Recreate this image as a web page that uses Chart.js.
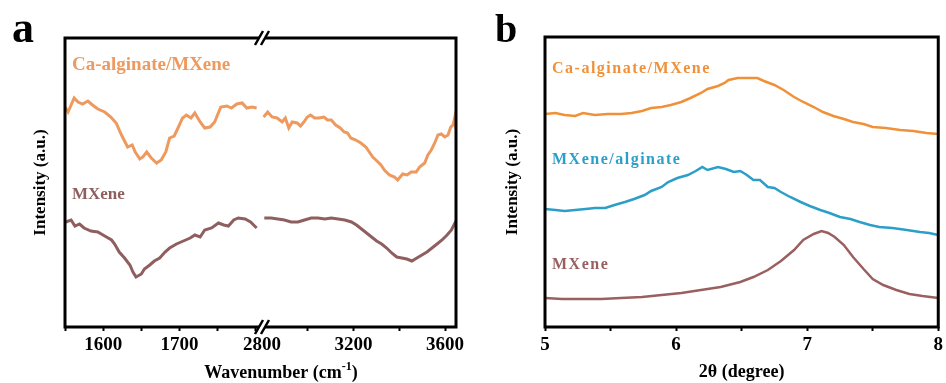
<!DOCTYPE html>
<html>
<head>
<meta charset="utf-8">
<script src="https://cdn.jsdelivr.net/npm/chart.js@4.4.0/dist/chart.umd.min.js"></script>
<style>
  html, body { margin: 0; padding: 0; background: #fff; }
  #wrap { position: relative; width: 946px; height: 383px; overflow: hidden; }
  #panelA { position: absolute; left: 0; top: 0; width: 480px; height: 383px; }
  #panelB { position: absolute; left: 480px; top: 0; width: 466px; height: 383px; }
</style>
</head>
<body>
<div id="wrap">
  <div id="panelA"><canvas id="chartA"></canvas></div>
  <div id="panelB"><canvas id="chartB"></canvas></div>
</div>
<script>
const fontFamily = '"Liberation Serif", "Times New Roman", serif';

// ---- panel a : FTIR, wavenumber axis broken between ~1808 and 2800 ----
const lowTickLabels = [1600, 1700];
const highTickLabels = [2800, 3200, 3600];

const caAlgLowX = [1550, 1554, 1558, 1562, 1567, 1573, 1580, 1586, 1593, 1602, 1610, 1617, 1624, 1632, 1638, 1642, 1648, 1652, 1657, 1663, 1670, 1676, 1682, 1687, 1693, 1698, 1704, 1709, 1715, 1720, 1727, 1733, 1740, 1746, 1754, 1762, 1768, 1775, 1782, 1788, 1795, 1801];
const caAlgLowY = [220, 215, 222, 229, 225, 223, 226, 222, 218, 215, 210, 204, 192, 180, 182, 175, 168, 170, 175, 169, 164, 167, 175, 189, 191, 199, 209, 212, 209, 214, 205, 199, 200, 205, 220, 221, 219, 223, 224, 219, 220, 219];
const caAlgHighX = [2807, 2825, 2844, 2866, 2888, 2902, 2917, 2932, 2954, 2968, 2983, 2998, 3012, 3030, 3049, 3071, 3086, 3103, 3122, 3142, 3159, 3174, 3188, 3210, 3232, 3254, 3269, 3284, 3298, 3320, 3335, 3357, 3379, 3393, 3415, 3434, 3452, 3474, 3489, 3511, 3525, 3540, 3555, 3569, 3584, 3599, 3613, 3625, 3635, 3643, 3648];
const caAlgHighY = [210, 215, 210, 209, 205, 209, 199, 205, 204, 201, 205, 210, 212, 209, 209, 210, 207, 207, 202, 199, 195, 194, 189, 187, 184, 180, 175, 170, 167, 162, 157, 152, 150, 147, 153, 152, 155, 155, 160, 164, 172, 177, 184, 192, 193, 190, 192, 200, 202, 210, 198];

const mxLowX = [1551, 1558, 1563, 1569, 1575, 1584, 1593, 1602, 1611, 1615, 1621, 1628, 1635, 1639, 1643, 1650, 1654, 1661, 1667, 1674, 1681, 1687, 1696, 1705, 1714, 1720, 1727, 1733, 1742, 1751, 1758, 1764, 1771, 1777, 1786, 1793, 1801];
const mxLowY = [105, 107, 101, 103, 99, 96, 95, 91, 87, 83, 75, 69, 62, 55, 50, 53, 58, 62, 66, 69, 75, 79, 83, 86, 89, 92, 90, 97, 99, 104, 102, 101, 107, 109, 108, 105, 99];
const mxHighX = [2810, 2840, 2869, 2898, 2927, 2957, 2986, 3015, 3045, 3074, 3103, 3133, 3162, 3191, 3213, 3235, 3257, 3279, 3301, 3323, 3345, 3367, 3389, 3411, 3433, 3455, 3477, 3499, 3521, 3543, 3565, 3587, 3609, 3628, 3639, 3648];
const mxHighY = [109, 109, 108, 107, 105, 105, 107, 109, 109, 108, 109, 108, 107, 105, 102, 98, 94, 90, 86, 83, 79, 74, 70, 69, 68, 66, 69, 72, 75, 79, 83, 87, 92, 97, 102, 106];

// ---- panel b : XRD ----
const thetaTickLabels = [5, 6, 7, 8];

const xrdCaAlgX = [5.00, 5.08, 5.15, 5.23, 5.29, 5.38, 5.48, 5.58, 5.66, 5.74, 5.81, 5.89, 5.96, 6.04, 6.11, 6.19, 6.24, 6.32, 6.37, 6.40, 6.47, 6.54, 6.62, 6.67, 6.75, 6.82, 6.90, 6.97, 7.05, 7.12, 7.20, 7.28, 7.35, 7.43, 7.50, 7.60, 7.71, 7.81, 7.91, 8.00];
const xrdCaAlgY = [213, 214, 212, 211, 214, 212, 213, 213, 214, 216, 219, 220, 222, 225, 229, 234, 238, 241, 244, 247, 249, 249, 249, 246, 242, 237, 230, 225, 220, 215, 211, 208, 205, 203, 200, 199, 197, 196, 194, 193];
const xrdMxAlgX = [5.00, 5.08, 5.15, 5.23, 5.31, 5.38, 5.46, 5.53, 5.61, 5.68, 5.76, 5.81, 5.89, 5.94, 6.01, 6.09, 6.15, 6.20, 6.24, 6.32, 6.38, 6.44, 6.49, 6.54, 6.59, 6.64, 6.70, 6.75, 6.80, 6.87, 6.95, 7.02, 7.10, 7.17, 7.25, 7.33, 7.40, 7.48, 7.55, 7.65, 7.76, 7.86, 7.93, 8.00];
const xrdMxAlgY = [118, 117, 116, 117, 118, 119, 119, 122, 125, 128, 132, 136, 140, 145, 149, 152, 156, 160, 157, 160, 158, 155, 156, 152, 147, 147, 140, 139, 135, 130, 125, 121, 117, 114, 110, 108, 105, 102, 100, 99, 97, 95, 94, 92];
const xrdMxX = [5.00, 5.13, 5.28, 5.43, 5.58, 5.74, 5.89, 6.04, 6.19, 6.34, 6.49, 6.59, 6.70, 6.80, 6.90, 6.97, 7.05, 7.11, 7.16, 7.21, 7.28, 7.35, 7.43, 7.50, 7.58, 7.68, 7.78, 7.88, 8.00];
const xrdMxY = [29, 28, 28, 28, 29, 30, 32, 34, 37, 40, 45, 50, 57, 66, 77, 87, 93, 96, 94, 90, 82, 70, 58, 48, 42, 37, 33, 31, 29];

const colA = { caAlg: '#EE9A5F', mx: '#8F5F5F' };
const colB = { caAlg: '#F0913A', mxAlg: '#2C9FC8', mx: '#9A6060' };

function toPoints(xs, ys) {
    return xs.map((x, i) => ({ x: x, y: ys[i] }));
}

function lineSet(label, xs, ys, color, width, xAxisID) {
    return {
        label: label,
        data: toPoints(xs, ys),
        borderColor: color,
        borderWidth: width,
        pointRadius: 0,
        tension: 0,
        xAxisID: xAxisID
    };
}

function bottomAxis(extra) {
    return Object.assign({
        type: 'linear',
        position: 'bottom',
        border: { display: false },
        grid: { display: true, drawOnChartArea: false, drawTicks: true, tickLength: 4, tickWidth: 2, tickColor: '#000' },
        afterFit: s => { s.height = 56; }
    }, extra);
}

function yAxis(max, titlePad) {
    return {
        min: 0,
        max: max,
        border: { display: false },
        grid: { display: false },
        ticks: { display: false },
        title: {
            display: true,
            text: 'Intensity (a.u.)',
            color: '#000',
            font: { family: fontFamily, size: 17, weight: 'bold' },
            padding: { top: titlePad, bottom: 0 }
        },
        afterFit: s => { s.width = 65; }
    };
}

function tickFont() {
    return { family: fontFamily, size: 19, weight: 'bold' };
}

function drawLabel(ctx, text, x, y, color, font, spacing) {
    ctx.font = font;
    ctx.fillStyle = color;
    ctx.textAlign = 'left';
    ctx.textBaseline = 'middle';
    ctx.letterSpacing = spacing || '0px';
    ctx.fillText(text, x, y);
    ctx.letterSpacing = '0px';
}

// frame, axis break and texts of panel a
const panelAPlugin = {
    id: 'panelA',
    afterDraw(chart) {
        const ctx = chart.ctx;
        const a = chart.chartArea;
        ctx.save();
        ctx.strokeStyle = '#000';
        ctx.lineWidth = 3;
        ctx.strokeRect(a.left, a.top, a.right - a.left, a.bottom - a.top);

        const bx = chart.scales.x1.right;
        [a.top, a.bottom].forEach(y => {
            ctx.fillStyle = '#fff';
            ctx.beginPath();
            ctx.moveTo(bx - 7, y + 7);
            ctx.lineTo(bx - 1, y + 7);
            ctx.lineTo(bx + 7, y - 7);
            ctx.lineTo(bx + 1, y - 7);
            ctx.closePath();
            ctx.fill();
            ctx.lineWidth = 2.5;
            ctx.beginPath();
            ctx.moveTo(bx - 7, y + 7); ctx.lineTo(bx + 1, y - 7);
            ctx.moveTo(bx - 1, y + 7); ctx.lineTo(bx + 7, y - 7);
            ctx.stroke();
        });

        // panel letter
        ctx.fillStyle = '#000';
        ctx.font = 'bold 44px ' + fontFamily;
        ctx.textAlign = 'left';
        ctx.textBaseline = 'alphabetic';
        ctx.fillText('a', 12, 42);

        // x title with superscript
        const big = 'bold 18px ' + fontFamily, small = 'bold 12px ' + fontFamily;
        ctx.font = big;
        const w1 = ctx.measureText('Wavenumber (cm').width;
        const w3 = ctx.measureText(')').width;
        ctx.font = small;
        const w2 = ctx.measureText('-1').width;
        let x = 281 - (w1 + w2 + w3) / 2;
        ctx.font = big;
        ctx.fillText('Wavenumber (cm', x, 378);
        ctx.font = small;
        ctx.fillText('-1', x + w1, 370);
        ctx.font = big;
        ctx.fillText(')', x + w1 + w2, 378);

        drawLabel(ctx, 'Ca-alginate/MXene', 72, 65, colA.caAlg, 'bold 19px ' + fontFamily);
        drawLabel(ctx, 'MXene', 72, 195, colA.mx, 'bold 17px ' + fontFamily);
        ctx.restore();
    }
};

const panelBPlugin = {
    id: 'panelB',
    afterDraw(chart) {
        const ctx = chart.ctx;
        const a = chart.chartArea;
        ctx.save();
        ctx.strokeStyle = '#000';
        ctx.lineWidth = 3;
        ctx.strokeRect(a.left, a.top, a.right - a.left, a.bottom - a.top);

        ctx.fillStyle = '#000';
        ctx.font = 'bold 40px ' + fontFamily;
        ctx.textAlign = 'left';
        ctx.textBaseline = 'alphabetic';
        ctx.fillText('b', 15, 42);

        const f = 'bold 16px ' + fontFamily;
        drawLabel(ctx, 'Ca-alginate/MXene', 72, 69, colB.caAlg, f, '1.5px');
        drawLabel(ctx, 'MXene/alginate', 72, 160, colB.mxAlg, f, '1.5px');
        drawLabel(ctx, 'MXene', 72, 265, colB.mx, f, '1.5px');
        ctx.restore();
    }
};

Chart.defaults.font.family = fontFamily;
Chart.defaults.color = '#000';

new Chart(document.getElementById('chartA'), {
    type: 'line',
    data: {
        datasets: [
            lineSet('Ca-alginate/MXene', caAlgLowX, caAlgLowY, colA.caAlg, 3, 'x1'),
            lineSet('Ca-alginate/MXene', caAlgHighX, caAlgHighY, colA.caAlg, 3, 'x2'),
            lineSet('MXene', mxLowX, mxLowY, colA.mx, 3, 'x1'),
            lineSet('MXene', mxHighX, mxHighY, colA.mx, 3, 'x2')
        ]
    },
    options: {
        responsive: true,
        maintainAspectRatio: false,
        animation: false,
        layout: { padding: { top: 38, right: 24, bottom: 0, left: 0 } },
        plugins: { legend: { display: false }, tooltip: { enabled: false } },
        scales: {
            x1: bottomAxis({
                min: 1550, max: 1808, stack: 'wn', stackWeight: 197, weight: 0,
                ticks: { stepSize: 50, includeBounds: false, autoSkip: false, maxRotation: 0, padding: 3, color: '#000', font: tickFont(),
                    callback: v => lowTickLabels.includes(v) ? String(v) : '' }
            }),
            x2: bottomAxis({
                min: 2800, max: 3648, stack: 'wn', stackWeight: 194, weight: 1,
                ticks: { stepSize: 200, includeBounds: false, autoSkip: false, maxRotation: 0, padding: 3, color: '#000', font: tickFont(),
                    callback: v => highTickLabels.includes(v) ? String(v) : '' }
            }),
            y: yAxis(289, 30)
        }
    },
    plugins: [panelAPlugin]
});

new Chart(document.getElementById('chartB'), {
    type: 'line',
    data: {
        datasets: [
            lineSet('Ca-alginate/MXene', xrdCaAlgX, xrdCaAlgY, colB.caAlg, 2.5, 'x'),
            lineSet('MXene/alginate', xrdMxAlgX, xrdMxAlgY, colB.mxAlg, 2.5, 'x'),
            lineSet('MXene', xrdMxX, xrdMxY, colB.mx, 2.5, 'x')
        ]
    },
    options: {
        responsive: true,
        maintainAspectRatio: false,
        animation: false,
        layout: { padding: { top: 37, right: 5, bottom: 0, left: 0 } },
        plugins: { legend: { display: false }, tooltip: { enabled: false } },
        scales: {
            x: bottomAxis({
                min: 5, max: 8,
                ticks: { stepSize: 0.5, autoSkip: false, maxRotation: 0, padding: 3, color: '#000', font: tickFont(),
                    callback: v => thetaTickLabels.includes(v) ? String(v) : '' },
                title: {
                    display: true,
                    text: '2θ (degree)',
                    color: '#000',
                    font: { family: fontFamily, size: 18, weight: 'bold' },
                    padding: { top: 0, bottom: 0 }
                }
            }),
            y: yAxis(290, 22)
        }
    },
    plugins: [panelBPlugin]
});
</script>
</body>
</html>
